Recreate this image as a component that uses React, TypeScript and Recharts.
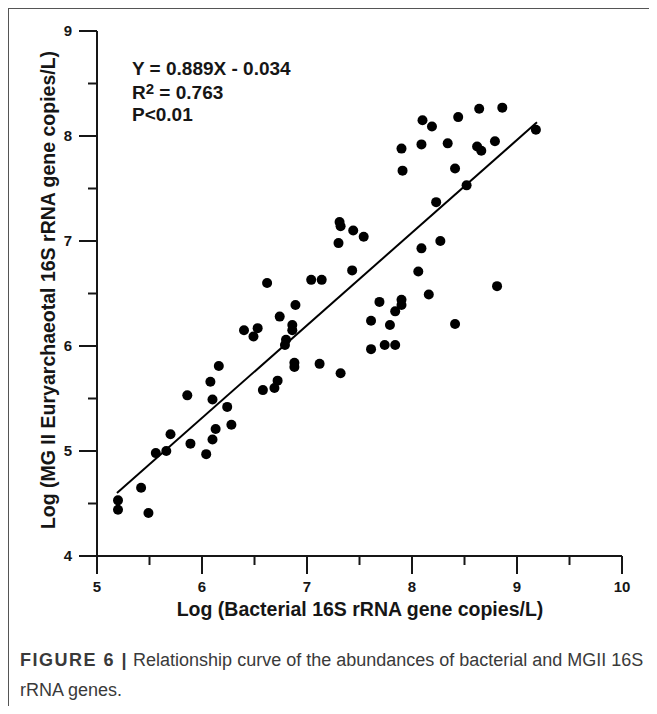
import React from 'react';
import {
  ScatterChart,
  Scatter,
  XAxis,
  YAxis,
  ReferenceLine,
} from 'recharts';

// bacterial 16S (log copies/L)
const bacterialLog = [
  5.2, 5.2, 5.49, 5.42, 5.56, 5.66, 5.7, 5.86, 5.89, 6.04, 6.1, 6.13, 6.08, 6.1,
  6.24, 6.28, 6.58, 6.69, 6.72, 6.16, 6.4, 6.49, 6.53, 6.62, 6.74, 6.79, 6.8,
  6.86, 6.86, 6.89, 6.88, 6.88, 7.12, 7.04, 7.14, 7.32, 7.43, 7.3, 7.31, 7.32,
  7.44, 7.54, 7.61, 7.61, 7.69, 7.79, 7.74, 7.84, 7.84, 7.9, 7.9, 8.06, 8.09,
  8.16, 8.27, 8.41, 8.23, 8.52, 8.81, 8.1, 8.19, 8.44, 8.64, 8.86, 7.9, 8.09,
  8.34, 8.62, 8.66, 8.79, 9.18, 7.91, 8.41,
];

// MG II Euryarchaeotal 16S (log copies/L)
const mg2Log = [
  4.53, 4.44, 4.41, 4.65, 4.98, 5.0, 5.16, 5.53, 5.07, 4.97, 5.11, 5.21, 5.66,
  5.49, 5.42, 5.25, 5.58, 5.6, 5.67, 5.81, 6.15, 6.09, 6.17, 6.6, 6.28, 6.01,
  6.06, 6.2, 6.15, 6.39, 5.8, 5.84, 5.83, 6.63, 6.63, 5.74, 6.72, 6.98, 7.18,
  7.14, 7.1, 7.04, 6.24, 5.97, 6.42, 6.2, 6.01, 6.01, 6.33, 6.44, 6.39, 6.71,
  6.93, 6.49, 7.0, 6.21, 7.37, 7.53, 6.57, 8.15, 8.09, 8.18, 8.26, 8.27, 7.88,
  7.92, 7.93, 7.9, 7.86, 7.95, 8.06, 7.67, 7.69,
];

// fitted line end points
const fitX = [5.19, 9.19];
const fitY = [4.6, 8.13];

const xTicks = [5, 5.5, 6, 6.5, 7, 7.5, 8, 8.5, 9, 9.5, 10];
const yTicks = [4, 4.5, 5, 5.5, 6, 6.5, 7, 7.5, 8, 8.5, 9];

const points = bacterialLog.map((x, i) => ({ x, y: mg2Log[i] }));

const font = '"Liberation Sans", Arial, sans-serif';
const ink = '#161616';

const XTick = (props: any) => {
  const { x, y, payload } = props;
  const major = Number.isInteger(payload.value);
  return (
    <g>
      <line x1={x} x2={x} y1={y} y2={y + (major ? 18 : 9)} stroke={ink} strokeWidth={2} />
      {major && (
        <text x={x} y={y + 36} textAnchor="middle" fontSize={15} fontWeight="bold" fill={ink} fontFamily={font}>
          {payload.value}
        </text>
      )}
    </g>
  );
};

const YTick = (props: any) => {
  const { x, y, payload } = props;
  const major = Number.isInteger(payload.value);
  return (
    <g>
      <line x1={x} x2={x - (major ? 18 : 9)} y1={y} y2={y} stroke={ink} strokeWidth={2} />
      {major && (
        <text x={x - 25} y={y + 5} textAnchor="end" fontSize={15} fontWeight="bold" fill={ink} fontFamily={font}>
          {payload.value}
        </text>
      )}
    </g>
  );
};

const Dot = (props: any) => <circle cx={props.cx} cy={props.cy} r={5} fill="#000" />;

export default function App() {
  return (
    <div style={{ position: 'relative', width: 657, height: 714, margin: -8, background: '#fff', overflow: 'hidden' }}>
      <div style={{ position: 'absolute', left: 8, top: 8, width: 642, height: 0, borderTop: '1px solid #555' }} />
      <div style={{ position: 'absolute', left: 8, top: 8, width: 0, height: 706, borderLeft: '1px solid #555' }} />
      <div style={{ position: 'absolute', left: 650, top: 8, width: 0, height: 542, borderLeft: '1px solid #555' }} />

      <div style={{ position: 'absolute', left: 0, top: 0 }}>
        <ScatterChart width={657} height={620} margin={{ top: 31, right: 35, bottom: 24, left: 37 }}>
          <XAxis
            type="number"
            dataKey="x"
            domain={[5, 10]}
            ticks={xTicks}
            interval={0}
            height={40}
            tickSize={0}
            tickMargin={0}
            tickLine={false}
            axisLine={{ stroke: ink, strokeWidth: 2 }}
            tick={<XTick />}
            allowDataOverflow
          />
          <YAxis
            type="number"
            dataKey="y"
            domain={[4, 9]}
            ticks={yTicks}
            interval={0}
            width={60}
            tickSize={0}
            tickMargin={0}
            tickLine={false}
            axisLine={{ stroke: ink, strokeWidth: 2 }}
            tick={<YTick />}
            allowDataOverflow
          />
          <ReferenceLine
            segment={[
              { x: fitX[0], y: fitY[0] },
              { x: fitX[1], y: fitY[1] },
            ]}
            stroke="#000"
            strokeWidth={2}
          />
          <Scatter data={points} shape={<Dot />} isAnimationActive={false} />
        </ScatterChart>
      </div>

      <div style={{ position: 'absolute', left: 132, top: 57, fontFamily: font, fontWeight: 'bold', fontSize: 19, color: ink, lineHeight: '24px' }}>
        <div>Y = 0.889X - 0.034</div>
        <div>
          R<sup style={{ fontSize: 15, verticalAlign: 'top', position: 'relative', top: -4 }}>2</sup> = 0.763
        </div>
        <div style={{ marginTop: -2 }}>P&lt;0.01</div>
      </div>

      <div
        style={{
          position: 'absolute',
          left: 48,
          top: 290,
          transform: 'translate(-50%, -50%) rotate(-90deg)',
          whiteSpace: 'nowrap',
          fontFamily: font,
          fontWeight: 'bold',
          fontSize: 19.5,
          color: ink,
        }}
      >
        Log (MG II Euryarchaeotal 16S rRNA gene copies/L)
      </div>

      <div
        style={{
          position: 'absolute',
          left: 360,
          top: 609,
          transform: 'translate(-50%, -50%)',
          whiteSpace: 'nowrap',
          fontFamily: font,
          fontWeight: 'bold',
          fontSize: 19.5,
          color: ink,
        }}
      >
        Log (Bacterial 16S rRNA gene copies/L)
      </div>

      <div style={{ position: 'absolute', left: 20, top: 645, width: 625, fontFamily: font, fontSize: 18, color: '#3a3a3a', lineHeight: '30px' }}>
        <span style={{ fontWeight: 'bold', letterSpacing: 1.5 }}>FIGURE 6 |</span> Relationship curve of the abundances of bacterial and MGII 16S rRNA genes.
      </div>
    </div>
  );
}
